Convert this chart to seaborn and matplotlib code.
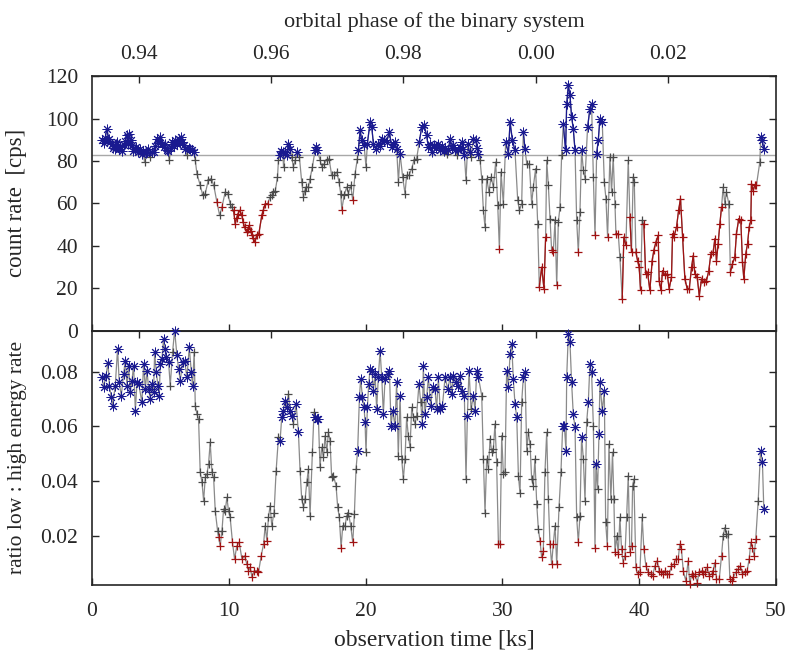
import numpy as np
import matplotlib
matplotlib.use('Agg')
import matplotlib.pyplot as plt
from matplotlib.ticker import FuncFormatter
import seaborn as sns

# --- top panel: total count rate (cps) ---
top_time = [
    0.73, 0.85, 0.97, 1.09, 1.21, 1.33, 1.46, 1.55, 1.65, 1.74,
    1.82, 1.95, 2.07, 2.19, 2.31, 2.43, 2.55, 2.64, 2.72, 2.82,
    2.92, 3.01, 3.11, 3.25, 3.38, 3.50, 3.62, 3.73, 3.84, 3.93,
    4.01, 4.13, 4.26, 4.38, 4.50, 4.62, 4.74, 4.86, 4.99, 5.11,
    5.23, 5.33, 5.45, 5.55, 5.65, 5.74, 5.84, 5.96, 6.08, 6.20,
    6.33, 6.42, 6.52, 6.60, 6.69, 6.80, 6.94, 7.06, 7.18, 7.30,
    7.42, 7.55, 7.67, 7.91, 8.10, 8.28, 8.50, 8.70, 8.90, 9.13,
    9.33, 9.50, 9.74, 9.93, 10.10, 10.20, 10.35, 10.47, 10.57, 10.67,
    10.80, 10.96, 11.05, 11.15, 11.32, 11.42, 11.50, 11.60, 11.70, 11.80,
    11.90, 12.05, 12.20, 12.41, 12.53, 12.66, 12.83, 13.02, 13.14, 13.26,
    13.40, 13.56, 13.63, 13.75, 13.85, 13.95, 14.00, 14.12, 14.24, 14.36,
    14.48, 14.60, 14.72, 14.85, 15.02, 15.16, 15.33, 15.46, 15.55, 15.65,
    15.82, 15.94, 16.11, 16.31, 16.40, 16.48, 16.67, 16.80, 16.97, 17.16,
    17.33, 17.52, 17.70, 17.89, 18.06, 18.18, 18.26, 18.43, 18.62, 18.74,
    18.91, 19.06, 19.23, 19.40, 19.47, 19.60, 19.72, 19.89, 20.03, 20.13,
    20.33, 20.45, 20.57, 20.76, 20.93, 21.05, 21.18, 21.35, 21.54, 21.74,
    21.91, 22.03, 22.15, 22.27, 22.40, 22.52, 22.71, 22.88, 23.00, 23.17,
    23.37, 23.54, 23.73, 23.93, 24.10, 24.27, 24.46, 24.59, 24.71, 24.83,
    25.00, 25.15, 25.32, 25.45, 25.60, 25.70, 25.82, 25.93, 26.05, 26.18,
    26.30, 26.42, 26.55, 26.66, 26.78, 26.90, 27.03, 27.15, 27.22, 27.34,
    27.47, 27.60, 27.71, 27.88, 28.05, 28.15, 28.25, 28.37, 28.49, 28.61,
    28.73, 28.85, 29.02, 29.17, 29.34, 29.51, 29.66, 29.78, 29.90, 30.07,
    30.24, 30.44, 30.56, 30.73, 30.92, 31.12, 31.24, 31.41, 31.53, 31.65,
    31.78, 31.97, 32.14, 32.26, 32.43, 32.58, 32.70, 32.87, 33.04, 33.16,
    33.24, 33.36, 33.48, 33.60, 33.72, 33.85, 33.97, 34.09, 34.21, 34.33,
    34.45, 34.62, 34.70, 34.82, 34.94, 35.06, 35.18, 35.31, 35.43, 35.55,
    35.67, 35.79, 35.92, 36.04, 36.23, 36.40, 36.52, 36.65, 36.77, 36.89,
    37.01, 37.13, 37.30, 37.45, 37.57, 37.69, 37.86, 37.98, 38.10, 38.23,
    38.30, 38.47, 38.59, 38.76, 38.88, 39.03, 39.20, 39.32, 39.44, 39.56,
    39.64, 39.76, 39.88, 40.00, 40.10, 40.22, 40.34, 40.47, 40.61, 40.78,
    40.95, 41.07, 41.22, 41.39, 41.46, 41.59, 41.71, 41.88, 42.05, 42.19,
    42.36, 42.44, 42.54, 42.73, 42.88, 43.02, 43.17, 43.34, 43.51, 43.66,
    43.83, 43.95, 44.07, 44.24, 44.39, 44.56, 44.73, 44.92, 45.09, 45.24,
    45.41, 45.53, 45.65, 45.77, 45.90, 46.02, 46.14, 46.26, 46.38, 46.55,
    46.67, 46.82, 46.99, 47.11, 47.28, 47.43, 47.55, 47.65, 47.79, 47.92,
    48.04, 48.16, 48.21, 48.33, 48.45, 48.57, 48.82, 48.89, 48.99, 49.11,
]
top_rate = [
    89.8, 88.5, 91.0, 95.3, 90.5, 89.0, 88.2, 86.0, 85.8, 88.0,
    88.9, 85.5, 86.6, 84.8, 87.4, 89.5, 92.1, 88.0, 92.9, 90.0,
    87.4, 84.5, 85.8, 86.6, 84.0, 85.8, 83.5, 84.5, 79.5, 83.8,
    84.3, 85.5, 81.9, 84.0, 84.3, 87.0, 90.5, 88.5, 91.3, 88.0,
    86.6, 88.0, 85.0, 84.5, 80.3, 86.0, 88.9, 87.0, 89.8, 88.0,
    90.5, 88.5, 91.3, 89.0, 87.4, 85.5, 82.7, 86.0, 85.8, 85.0,
    84.3, 80.3, 74.0, 68.5, 63.8, 64.6, 70.9, 71.7, 68.5, 60.6,
    54.3, 58.3, 65.4, 64.6, 59.8, 58.3, 56.7, 50.4, 53.0, 55.1,
    56.7, 54.3, 51.0, 48.8, 46.5, 48.0, 49.6, 47.0, 44.9, 43.5,
    41.7, 44.9, 45.7, 54.3, 57.0, 59.8, 59.8, 63.0, 64.0, 65.4,
    66.0, 72.4, 80.3, 82.7, 84.5, 84.3, 77.2, 84.0, 82.7, 88.2,
    85.8, 81.9, 77.2, 80.3, 84.3, 81.9, 70.1, 63.0, 66.0, 67.7,
    67.7, 71.7, 77.2, 85.0, 86.5, 85.0, 80.3, 77.2, 78.7, 80.3,
    81.1, 73.2, 73.2, 74.8, 70.1, 64.6, 57.0, 63.8, 67.7, 64.6,
    68.5, 61.4, 74.0, 81.0, 85.0, 94.5, 89.8, 87.4, 77.2, 88.2,
    98.4, 96.0, 88.2, 85.8, 88.2, 87.0, 90.5, 89.8, 89.0, 93.7,
    86.6, 88.0, 89.0, 85.8, 70.1, 83.5, 72.4, 64.6, 73.2, 73.2,
    76.4, 80.3, 81.1, 89.0, 96.0, 96.9, 92.1, 86.6, 88.0, 84.3,
    87.4, 86.0, 88.2, 85.0, 87.0, 84.5, 86.0, 83.5, 85.0, 90.5,
    86.0, 87.4, 85.0, 82.7, 85.0, 86.5, 89.0, 85.5, 83.0, 70.9,
    88.2, 84.0, 81.9, 90.5, 89.8, 86.0, 83.5, 80.3, 71.7, 56.7,
    48.8, 71.7, 65.4, 72.4, 67.7, 79.5, 59.0, 38.6, 74.8, 59.8,
    89.0, 83.5, 98.4, 89.8, 85.0, 61.4, 56.7, 59.8, 93.7, 85.8,
    78.7, 78.7, 59.8, 67.7, 76.4, 50.4, 20.5, 29.9, 19.7, 44.1,
    80.3, 68.5, 52.8, 37.8, 37.0, 52.0, 21.3, 51.2, 58.3, 82.7,
    97.6, 85.0, 107.0, 115.7, 111.0, 100.8, 95.3, 85.0, 52.0, 37.0,
    55.9, 85.0, 75.6, 71.7, 96.0, 104.7, 107.0, 72.4, 44.9, 83.5,
    89.8, 100.0, 98.4, 70.1, 62.2, 44.1, 81.9, 65.4, 81.9, 59.8,
    45.7, 45.7, 34.6, 15.0, 44.1, 40.2, 80.3, 53.5, 37.0, 72.4,
    70.1, 37.0, 33.0, 29.9, 18.9, 52.0, 50.4, 26.8, 27.6, 18.9,
    33.0, 37.8, 41.7, 44.9, 23.6, 18.9, 28.3, 26.0, 26.8, 19.7,
    25.2, 45.7, 44.1, 48.8, 56.7, 62.2, 44.1, 24.4, 19.7, 19.7,
    29.9, 35.4, 26.8, 25.2, 16.5, 24.4, 22.8, 23.6, 28.3, 36.2,
    37.0, 43.3, 33.0, 40.9, 50.4, 58.3, 67.7, 59.8, 65.4, 59.8,
    27.6, 31.5, 34.6, 45.7, 52.8, 52.0, 32.3, 24.4, 36.2, 40.9,
    48.8, 52.0, 69.3, 66.0, 68.5, 68.5, 79.5, 91.3, 89.8, 85.8,
]
# b = bright/hard state (asterisk), g = intermediate, r = dip
top_state = list(
    "bbbbbbbbbb" "bbbbbbbbbb" "bbbbbbbbgb" "bbgbbbbbbb" "bbbbgbbbbb"
    "bbbbbbgbbb" "bggggggggr" "grggggrrrr" "rrrrrrrrrr" "rrrrrrrggg"
    "gggbbbgbbb" "bgggbggggg" "gggbbbgggg" "ggggggrggg" "grggbbbbgb"
    "bbbbbbbbbb" "bbbbgbgggg" "gggbbbbbbb" "bbbbbbbgbb" "bbbgbbbbbg"
    "bbgbbbbggg" "gggggggrgg" "bbbbbgggbb" "ggggggrrrr" "gggrrgrggg"
    "bbbbbbbbgr" "gbggbbbgrb" "bbbggrgggg" "rrgrrrgrrg" "grrrrgrrrr"
    "rrrrrrrrrr" "rrrrrrrrrr" "rrrrrrrrrr" "rrrrrrgggg" "rrrrrrrrrr"
    "rrrrrrgbbb"
)

# --- bottom panel: ratio low : high energy rate ---
low_time = [
    0.73, 0.85, 1.02, 1.17, 1.27, 1.41, 1.51, 1.70, 1.87, 1.99,
    2.14, 2.31, 2.43, 2.56, 2.68, 2.80, 2.92, 3.04, 3.17, 3.29,
    3.41, 3.65, 3.77, 3.90, 4.02, 4.14, 4.26, 4.38, 4.50, 4.58,
    4.70, 4.82, 4.92, 4.99, 5.11, 5.23, 5.31, 5.43, 5.60, 5.72,
    5.89, 6.04, 6.21, 6.33, 6.45, 6.62, 6.77, 6.94, 7.11, 7.26,
    7.35, 7.47, 7.55, 7.67, 7.79, 7.91, 8.04, 8.16, 8.28, 8.40,
    8.52, 8.64, 8.77, 8.89, 9.01, 9.18, 9.25, 9.37, 9.50, 9.62,
    9.74, 9.86, 9.98, 10.10, 10.27, 10.42, 10.59, 10.76, 10.96, 11.15,
    11.32, 11.44, 11.57, 11.69, 11.86, 12.05, 12.17, 12.37, 12.54, 12.66,
    12.78, 12.90, 13.02, 13.14, 13.31, 13.46, 13.63, 13.75, 13.87, 13.99,
    14.12, 14.24, 14.36, 14.48, 14.60, 14.72, 14.92, 15.09, 15.21, 15.33,
    15.46, 15.58, 15.70, 15.82, 15.94, 16.11, 16.23, 16.31, 16.43, 16.55,
    16.67, 16.79, 16.92, 17.04, 17.16, 17.28, 17.40, 17.52, 17.65, 17.84,
    17.96, 18.08, 18.21, 18.33, 18.50, 18.62, 18.74, 18.91, 19.06, 19.18,
    19.30, 19.42, 19.55, 19.64, 19.77, 19.89, 19.96, 20.03, 20.13, 20.23,
    20.33, 20.45, 20.57, 20.69, 20.81, 20.93, 21.06, 21.18, 21.30, 21.42,
    21.62, 21.74, 21.86, 21.98, 22.15, 22.27, 22.39, 22.52, 22.64, 22.76,
    22.88, 23.00, 23.12, 23.25, 23.37, 23.49, 23.61, 23.73, 23.90, 24.03,
    24.15, 24.22, 24.34, 24.46, 24.59, 24.76, 24.90, 25.07, 25.19, 25.32,
    25.45, 25.62, 25.81, 26.01, 26.18, 26.30, 26.42, 26.59, 26.78, 26.91,
    27.03, 27.22, 27.34, 27.44, 27.56, 27.71, 27.88, 28.00, 28.12, 28.25,
    28.49, 28.61, 28.73, 28.85, 28.98, 29.10, 29.22, 29.34, 29.46, 29.58,
    29.71, 29.83, 29.95, 30.07, 30.19, 30.31, 30.44, 30.56, 30.68, 30.80,
    30.92, 31.05, 31.17, 31.29, 31.41, 31.53, 31.65, 31.78, 31.90, 32.02,
    32.14, 32.26, 32.38, 32.51, 32.63, 32.75, 32.87, 32.99, 33.11, 33.24,
    33.36, 33.48, 33.60, 33.72, 33.85, 33.97, 34.14, 34.28, 34.41, 34.53,
    34.65, 34.70, 34.82, 34.94, 35.06, 35.18, 35.31, 35.43, 35.55, 35.67,
    35.79, 35.92, 36.04, 36.16, 36.28, 36.40, 36.52, 36.65, 36.77, 36.84,
    36.96, 37.06, 37.13, 37.30, 37.45, 37.55, 37.67, 37.79, 37.93, 38.05,
    38.15, 38.23, 38.35, 38.47, 38.59, 38.71, 38.83, 38.96, 39.08, 39.20,
    39.32, 39.44, 39.52, 39.61, 39.76, 39.88, 40.05, 40.22, 40.34, 40.49,
    40.66, 40.83, 40.98, 41.15, 41.32, 41.46, 41.63, 41.76, 41.88, 42.05,
    42.19, 42.36, 42.53, 42.68, 42.85, 42.97, 43.09, 43.22, 43.41, 43.58,
    43.70, 43.83, 43.95, 44.07, 44.24, 44.39, 44.56, 44.68, 44.80, 44.97,
    45.12, 45.29, 45.41, 45.53, 45.65, 45.85, 46.02, 46.14, 46.26, 46.38,
    46.50, 46.63, 46.75, 46.87, 47.06, 47.23, 47.40, 47.55, 47.72, 47.89,
    48.04, 48.16, 48.28, 48.40, 48.52, 48.70, 48.87, 49.01, 49.11,
]
low_ratio = [
    .0779, .0743, .0785, .0832, .0749, .0706, .0676, .0749, .0883, .0761,
    .0712, .0791, .0840, .0749, .0822, .0724, .0767, .0822, .0657, .0761,
    .0755, .0688, .0828, .0737, .0804, .0737, .0700, .0755, .0724, .0871,
    .0798, .0749, .0712, .0828, .0846, .0920, .0883, .0852, .0834, .0749,
    .0871, .0950, .0859, .0810, .0767, .0834, .0840, .0779, .0889, .0798,
    .0749, .0871, .0676, .0645, .0627, .0432, .0395, .0328, .0413, .0426,
    .0462, .0541, .0432, .0413, .0291, .0218, .0194, .0163, .0218, .0298,
    .0291, .0340, .0291, .0267, .0176, .0115, .0163, .0176, .0115, .0127,
    .0096, .0072, .0084, .0048, .0072, .0072, .0066, .0127, .0169, .0237,
    .0182, .0267, .0310, .0237, .0285, .0438, .0560, .0548, .0633, .0657,
    .0694, .0670, .0718, .0657, .0639, .0609, .0682, .0578, .0438, .0334,
    .0304, .0334, .0395, .0444, .0273, .0505, .0651, .0633, .0627, .0627,
    .0450, .0523, .0487, .0566, .0505, .0578, .0548, .0413, .0420, .0383,
    .0304, .0267, .0157, .0237, .0237, .0273, .0285, .0237, .0176, .0279,
    .0444, .0511, .0706, .0773, .0706, .0669, .0615, .0505, .0669, .0755,
    .0810, .0804, .0730, .0791, .0663, .0779, .0877, .0779, .0645, .0773,
    .0791, .0804, .0602, .0657, .0602, .0761, .0493, .0712, .0480, .0407,
    .0480, .0633, .0566, .0523, .0669, .0633, .0609, .0639, .0755, .0688,
    .0609, .0822, .0645, .0706, .0779, .0676, .0743, .0737, .0663, .0779,
    .0663, .0676, .0779, .0737, .0779, .0718, .0785, .0761, .0749, .0785,
    .0730, .0712, .0407, .0639, .0804, .0663, .0712, .0657, .0804, .0779,
    .0712, .0480, .0285, .0480, .0444, .0554, .0505, .0517, .0609, .0468,
    .0170, .0170, .0566, .0426, .0432, .0804, .0743, .0865, .0901, .0773,
    .0682, .0633, .0420, .0355, .0688, .0779, .0798, .0511, .0578, .0535,
    .0407, .0383, .0480, .0316, .0224, .0182, .0121, .0145, .0432, .0578,
    .0334, .0170, .0096, .0170, .0237, .0096, .0304, .0432, .0602, .0602,
    .0511, .0779, .0938, .0907, .0761, .0645, .0596, .0267, .0176, .0273,
    .0560, .0480, .0328, .0615, .0688, .0828, .0798, .0602, .0157, .0462,
    .0371, .0572, .0761, .0657, .0730, .0249, .0163, .0535, .0334, .0505,
    .0334, .0139, .0200, .0133, .0267, .0151, .0102, .0127, .0267, .0420,
    .0139, .0163, .0383, .0407, .0084, .0060, .0066, .0267, .0151, .0090,
    .0066, .0060, .0054, .0090, .0109, .0072, .0066, .0060, .0072, .0060,
    .0060, .0090, .0096, .0115, .0115, .0169, .0151, .0072, .0035, .0109,
    .0023, .0060, .0054, .0060, .0029, .0066, .0072, .0060, .0066, .0084,
    .0054, .0060, .0072, .0102, .0041, .0041, .0127, .0200, .0230, .0206,
    .0206, .0041, .0035, .0048, .0066, .0078, .0090, .0060, .0066, .0072,
    .0115, .0176, .0157, .0127, .0188, .0328, .0511, .0468, .0298,
]
low_state = list(
    "bbbbbbbbbb" "bbbbbbbbbb" "bbbbbbbbbb" "bbbbbbbbbg" "gbbbbbbbbb"
    "bggggggggg" "ggggggrrgg" "ggggrrrrrr" "rrrrrrrrrg" "rggggggbbb"
    "bbgbbgbbgg" "gggggggbbb" "gggggggggg" "ggrgggggrg" "gbbbbbbgbb"
    "bbbbbbbbbb" "bbbbbbgbgg" "ggggggggbg" "bbbbbbbbbb" "bbbbbbbbbb"
    "bbgbbgbbbb" "gggggggggg" "rrgggbbbbb" "bbgggbbggg" "gggggrrrgg"
    "grrrgrggbb" "bbbbbbbgrg" "bgggbbbgrb" "gbbbbgrggg" "grgrgrrrgg"
    "rrggrrrgrr" "rrrrrrrrrr" "rrrrrrrrrr" "rrrrrrrrrr" "rrrrrrrggg"
    "grrrrrrrrr" "rrrrrgbbb"
)

count_level = 83.0            # reference level drawn in the top panel
phase_ticks = [0.94, 0.96, 0.98, 1.00, 1.02]
phase_t0, phase_p0, period_ks = 3.40, 0.94, 484.0

COLORS = {'b': '#1a1a90', 'g': '#4a4a4a', 'r': '#a01212'}
LINE_GREY = '#8a8a8a'
MARKERS = {'b': (8, 2, 0), 'g': '+', 'r': '+'}
SIZES = {'b': 42, 'g': 34, 'r': 34}
WIDTHS = {'b': 0.7, 'g': 0.9, 'r': 0.9}

sns.set_style('ticks')
plt.rcParams['font.family'] = ['Liberation Serif', 'DejaVu Serif']
plt.rcParams['font.size'] = 15.5


def to_phase(t):
    return phase_p0 + (np.asarray(t) - phase_t0) / period_ks


def from_phase(p):
    return phase_t0 + (np.asarray(p) - phase_p0) * period_ks


def draw_panel(ax, t, y, state, color_lines):
    t = np.asarray(t)
    y = np.asarray(y)
    state = np.asarray(state)
    sns.lineplot(x=t, y=y, ax=ax, sort=False, estimator=None,
                 color=LINE_GREY, lw=0.9, zorder=2)
    if color_lines:
        for s in ('r', 'b'):
            ax.plot(t, np.where(state == s, y, np.nan), color=COLORS[s],
                    lw=0.9, zorder=3)
    for s in ('g', 'r', 'b'):
        m = state == s
        sns.scatterplot(x=t[m], y=y[m], ax=ax, marker=MARKERS[s],
                        color=COLORS[s], s=SIZES[s], linewidth=WIDTHS[s],
                        zorder=4, clip_on=False)


fig, (ax1, ax2) = plt.subplots(2, 1, figsize=(7.89, 6.62), dpi=100, sharex=True)
fig.subplots_adjust(left=0.1166, right=0.9835, top=0.885, bottom=0.1163, hspace=0)

ax1.axhline(count_level, color='#a8a8a8', lw=1.0, zorder=1)
draw_panel(ax1, top_time, top_rate, top_state, True)
draw_panel(ax2, low_time, low_ratio, low_state, False)

ax1.set_xlim(0, 50)
ax1.set_ylim(0, 120)
ax1.set_yticks([0, 20, 40, 60, 80, 100, 120])
ax2.set_ylim(0.002, 0.095)
ax2.set_yticks([0.02, 0.04, 0.06, 0.08])
ax2.set_xticks([0, 10, 20, 30, 40, 50])

ax1.set_ylabel('count rate  [cps]', fontsize=16.5)
ax2.set_ylabel('ratio low : high energy rate', fontsize=15.5)
ax2.set_xlabel('observation time [ks]', fontsize=17, labelpad=6)
for ax in (ax1, ax2):
    ax.yaxis.set_label_coords(-0.095, 0.5)
    ax.tick_params(direction='in', length=5, width=1, left=True, right=True,
                   bottom=True, top=False)
    ax.tick_params(axis='y', pad=10)
    ax.tick_params(axis='x', pad=12)
    for sp in ax.spines.values():
        sp.set_visible(True)
        sp.set_linewidth(1.2)
ax1.tick_params(labelbottom=False)

phase_fmt = FuncFormatter(lambda p, _: f"{p % 1:.2f}")
for ax, labelled in ((ax1, True), (ax2, False)):
    sec = ax.secondary_xaxis('top', functions=(to_phase, from_phase))
    sec.set_xticks(phase_ticks)
    sec.xaxis.set_major_formatter(phase_fmt)
    sec.tick_params(direction='in', length=5, width=1, labeltop=labelled, pad=9)
    if labelled:
        sec.set_xlabel('orbital phase of the binary system', fontsize=16,
                       labelpad=13)

fig.savefig('out.png', dpi=100)
